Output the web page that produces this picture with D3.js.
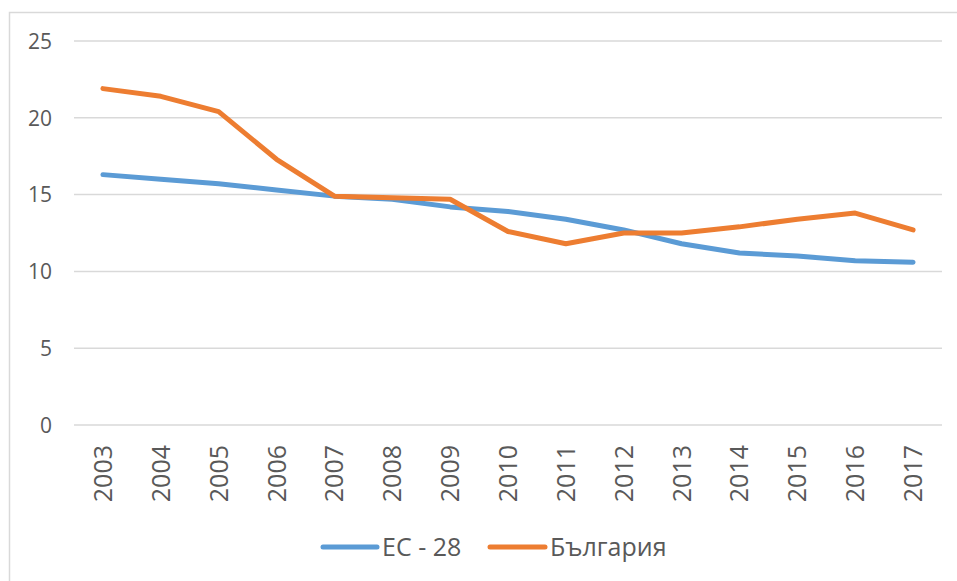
<!DOCTYPE html>
<html>
<head>
<meta charset="utf-8">
<script src="https://cdn.jsdelivr.net/npm/d3@7"></script>
<style>
  html, body { margin: 0; padding: 0; background: #fff; }
  svg { display: block; }
</style>
</head>
<body>
<svg id="chart" width="957" height="581"></svg>
<script>
const years = ["2003","2004","2005","2006","2007","2008","2009","2010","2011","2012","2013","2014","2015","2016","2017"];
const eu28 = [16.3, 16.0, 15.7, 15.3, 14.9, 14.7, 14.2, 13.9, 13.4, 12.7, 11.8, 11.2, 11.0, 10.7, 10.6];
const bulgaria = [21.9, 21.4, 20.4, 17.3, 14.9, 14.8, 14.7, 12.6, 11.8, 12.5, 12.5, 12.9, 13.4, 13.8, 12.7];
const yTicks = [0, 5, 10, 15, 20, 25];
const seriesNames = ["ЕС - 28", "България"];
const seriesColors = ["#5B9BD5", "#ED7D31"];

(function () {
const svg = d3.select("#chart");
const font = "'Open Sans', 'Noto Sans', sans-serif";
const textColor = "#595959";

// chart border
svg.append("rect")
  .attr("x", 9.5).attr("y", 12.5)
  .attr("width", 1000).attr("height", 1000)
  .attr("fill", "none").attr("stroke", "#D9D9D9").attr("stroke-width", 1.5);

const plotLeft = 74, plotRight = 942, plotTop = 41, plotBottom = 425;

const x = d3.scaleBand().domain(years).range([plotLeft, plotRight]);
const y = d3.scaleLinear().domain([0, 25]).range([plotBottom, plotTop]);

// gridlines
svg.append("g")
  .selectAll("line")
  .data(yTicks)
  .join("line")
  .attr("x1", plotLeft).attr("x2", plotRight)
  .attr("y1", d => y(d)).attr("y2", d => y(d))
  .attr("stroke", "#D9D9D9").attr("stroke-width", 1.5);

// y axis labels
const yAxis = d3.axisLeft(y).tickValues(yTicks).tickSize(0).tickPadding(0);
const gy = svg.append("g").attr("transform", `translate(52,0)`).call(yAxis);
gy.select(".domain").remove();
gy.selectAll("text")
  .attr("font-family", font).attr("font-size", 21).attr("fill", textColor)
  .attr("text-anchor", "end").attr("dy", "0.35em");

// x axis labels (rotated)
const xAxis = d3.axisBottom(x).tickSize(0).tickPadding(0);
const gx = svg.append("g").attr("transform", `translate(0,${plotBottom})`).call(xAxis);
gx.select(".domain").remove();
gx.selectAll("text")
  .attr("font-family", font).attr("font-size", 25).attr("fill", textColor)
  .attr("text-anchor", "end")
  .attr("transform", "rotate(-90)")
  .attr("x", -20).attr("y", 0).attr("dy", "0.36em");

// lines
const line = d3.line()
  .x((d, i) => x(years[i]) + x.bandwidth() / 2)
  .y(d => y(d));

[eu28, bulgaria].forEach((s, k) => {
  svg.append("path")
    .datum(s)
    .attr("d", line)
    .attr("fill", "none")
    .attr("stroke", seriesColors[k])
    .attr("stroke-width", 5)
    .attr("stroke-linejoin", "round")
    .attr("stroke-linecap", "round");
});

// legend
const legendY = 547;
const legendItems = [{x1: 323, x2: 377, tx: 382}, {x1: 490, x2: 545, tx: 550}];
legendItems.forEach((it, k) => {
  svg.append("line")
    .attr("x1", it.x1).attr("x2", it.x2)
    .attr("y1", legendY).attr("y2", legendY)
    .attr("stroke", seriesColors[k]).attr("stroke-width", 5)
    .attr("stroke-linecap", "round");
  svg.append("text")
    .attr("x", it.tx).attr("y", legendY)
    .attr("dy", "0.36em")
    .attr("font-family", font).attr("font-size", 25).attr("fill", textColor)
    .text(seriesNames[k]);
});
})();
</script>
</body>
</html>
